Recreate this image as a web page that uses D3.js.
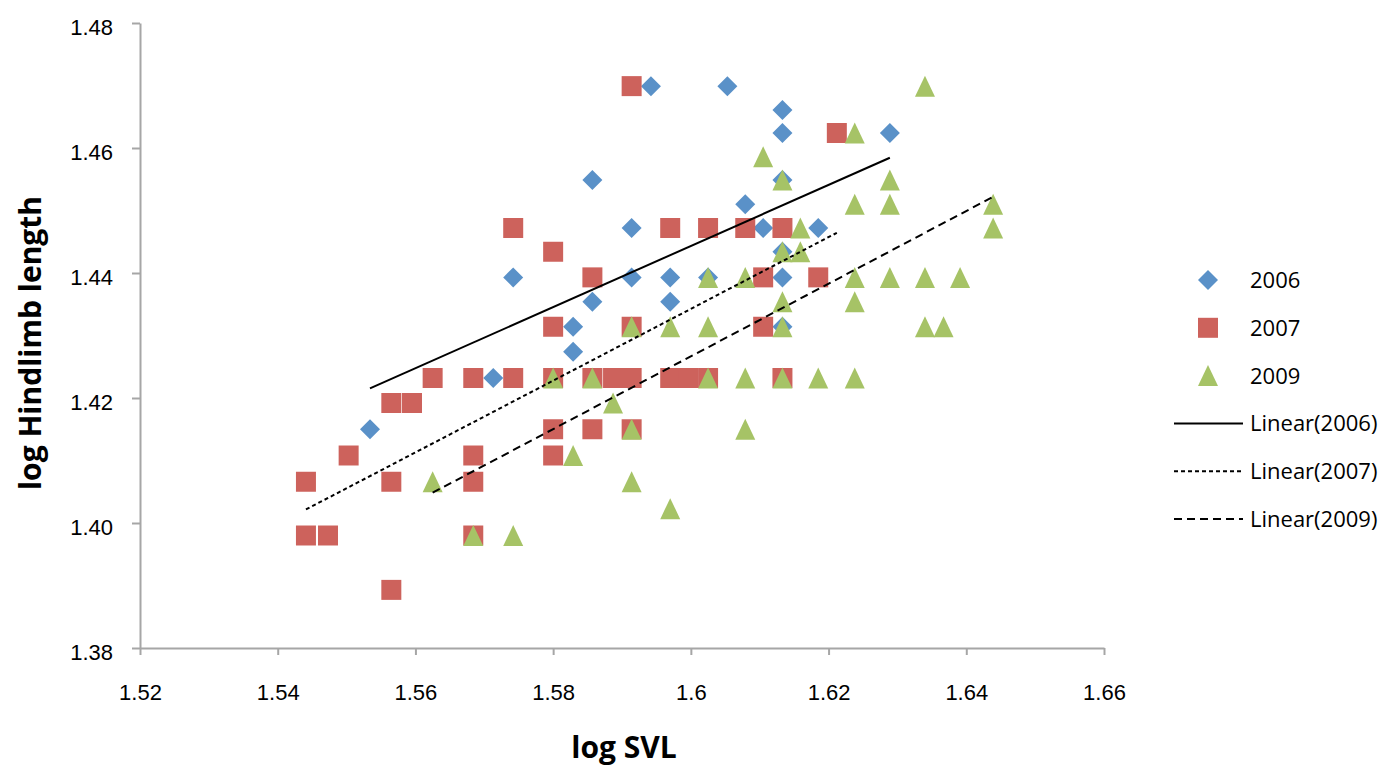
<!DOCTYPE html>
<html>
<head>
<meta charset="utf-8">
<script src="https://cdn.jsdelivr.net/npm/d3@7"></script>
<style>
  body { margin: 0; background: #fff; }
  svg { display: block; font-family: "Open Sans", sans-serif; }
  .axis path, .axis line { stroke: #a6a6a6; stroke-width: 2px; }
  .axis text { font-size: 22px; fill: #000; }
  .axis-title { font-size: 30px; font-weight: bold; }
  .legend text { font-size: 22px; }
</style>
</head>
<body>
<svg id="chart" width="1390" height="770"></svg>
<script>
// values (log SVL / log hindlimb length)
const x2006 = [1.5534, 1.5713, 1.5742, 1.5829, 1.5829, 1.5857, 1.5857, 1.5914, 1.5914, 1.5942, 1.5970, 1.5970,
  1.6053, 1.6133, 1.6133, 1.6133, 1.6079, 1.6105, 1.6185, 1.6289, 1.6025, 1.6133, 1.6133, 1.6133];
const y2006 = [1.4150, 1.4232, 1.4393, 1.4314, 1.4274, 1.4549, 1.4354, 1.4472, 1.4393, 1.4699, 1.4393, 1.4354,
  1.4699, 1.4661, 1.4624, 1.4549, 1.4510, 1.4472, 1.4472, 1.4624, 1.4393, 1.4434, 1.4393, 1.4314];

const x2007 = [1.5441, 1.5441, 1.5473, 1.5503, 1.5565, 1.5595, 1.5565, 1.5565, 1.5625, 1.5684, 1.5684, 1.5684,
  1.5684, 1.5742, 1.5742, 1.5800, 1.5800, 1.5800, 1.5800, 1.5800, 1.5857, 1.5857, 1.5857, 1.5887, 1.5914,
  1.5914, 1.5914, 1.5914, 1.5970, 1.5970, 1.5996, 1.6025, 1.6025, 1.6079, 1.6105, 1.6105, 1.6133, 1.6133,
  1.6185, 1.6212];
const y2007 = [1.4066, 1.3980, 1.3980, 1.4108, 1.4192, 1.4192, 1.4066, 1.3893, 1.4232, 1.4232, 1.4108, 1.4066,
  1.3980, 1.4472, 1.4232, 1.4434, 1.4314, 1.4232, 1.4150, 1.4108, 1.4393, 1.4232, 1.4150, 1.4232, 1.4699,
  1.4314, 1.4232, 1.4150, 1.4472, 1.4232, 1.4232, 1.4472, 1.4232, 1.4472, 1.4393, 1.4314, 1.4472, 1.4232,
  1.4393, 1.4624];

const x2009 = [1.5625, 1.5684, 1.5742, 1.5800, 1.5829, 1.5857, 1.5887, 1.5914, 1.5914, 1.5914, 1.5970, 1.5970,
  1.6025, 1.6025, 1.6025, 1.6079, 1.6079, 1.6079, 1.6105, 1.6133, 1.6133, 1.6133, 1.6133, 1.6133, 1.6159,
  1.6159, 1.6185, 1.6238, 1.6238, 1.6238, 1.6238, 1.6238, 1.6289, 1.6289, 1.6289, 1.6340, 1.6340, 1.6340,
  1.6367, 1.6391, 1.6439, 1.6439];
const y2009 = [1.4066, 1.3980, 1.3980, 1.4232, 1.4108, 1.4232, 1.4192, 1.4314, 1.4150, 1.4066, 1.4314, 1.4023,
  1.4393, 1.4314, 1.4232, 1.4393, 1.4232, 1.4150, 1.4586, 1.4549, 1.4434, 1.4354, 1.4314, 1.4232, 1.4472,
  1.4434, 1.4232, 1.4624, 1.4510, 1.4393, 1.4354, 1.4232, 1.4549, 1.4510, 1.4393, 1.4699, 1.4393, 1.4314,
  1.4314, 1.4393, 1.4510, 1.4472];

const years = ['2006', '2007', '2009'];
// linear trend lines as drawn in the picture
const trendSlope = [0.4887, 0.5741, 0.5816];
const trendIntercept = [0.6624, 0.5157, 0.4961];

const xTicks = [1.52, 1.54, 1.56, 1.58, 1.6, 1.62, 1.64, 1.66];
const xTickLabels = ['1.52', '1.54', '1.56', '1.58', '1.6', '1.62', '1.64', '1.66'];
const yTicks = [1.38, 1.40, 1.42, 1.44, 1.46, 1.48];
const yTickLabels = ['1.38', '1.40', '1.42', '1.44', '1.46', '1.48'];

const colors = ['#5a91c8', '#cd625c', '#a6c366'];
const shapes = ['diamond', 'square', 'triangle'];
const dashes = [null, '4,3', '8,5'];

const svg = d3.select('#chart');

const x = d3.scaleLinear().domain([1.52, 1.66]).range([140, 1104]);
const y = d3.scaleLinear().domain([1.38, 1.48]).range([648, 23]);

const markerPath = (shape, cx, cy) => {
  const r = 10;
  if (shape === 'diamond') {
    return `M${cx},${cy - r}L${cx + r},${cy}L${cx},${cy + r}L${cx - r},${cy}Z`;
  }
  if (shape === 'square') {
    return `M${cx - r},${cy - r}h${2 * r}v${2 * r}h${-2 * r}Z`;
  }
  return `M${cx},${cy - 10.5}L${cx + 10},${cy + 10.5}L${cx - 10},${cy + 10.5}Z`;
};

// axes
svg.append('g')
  .attr('class', 'axis')
  .attr('transform', 'translate(0,648)')
  .call(d3.axisBottom(x)
    .tickValues(xTicks)
    .tickFormat((d, i) => xTickLabels[i])
    .tickSize(7)
    .tickSizeOuter(0)
    .tickPadding(29));

svg.append('g')
  .attr('class', 'axis')
  .attr('transform', 'translate(140,0)')
  .call(d3.axisLeft(y)
    .tickValues(yTicks)
    .tickFormat((d, i) => yTickLabels[i])
    .tickSize(8)
    .tickSizeOuter(0)
    .tickPadding(19))
  .selectAll('text')
  .attr('dy', '0.5em');

svg.selectAll('.axis .domain').attr('fill', 'none');

// axis titles
svg.append('text')
  .attr('class', 'axis-title')
  .attr('x', 624)
  .attr('y', 758)
  .attr('text-anchor', 'middle')
  .text('log SVL');

svg.append('text')
  .attr('class', 'axis-title')
  .attr('transform', 'translate(41,343) rotate(-90)')
  .attr('text-anchor', 'middle')
  .text('log Hindlimb length');

// markers
const series = [
  { xs: x2006, ys: y2006 },
  { xs: x2007, ys: y2007 },
  { xs: x2009, ys: y2009 },
];

series.forEach((s, k) => {
  svg.append('g')
    .selectAll('path')
    .data(s.xs.map((v, i) => [v, s.ys[i]]))
    .enter()
    .append('path')
    .attr('d', d => markerPath(shapes[k], x(d[0]), y(d[1])))
    .attr('fill', colors[k]);
});

// trend lines, over the markers
series.forEach((s, k) => {
  const ext = d3.extent(s.xs);
  svg.append('line')
    .attr('x1', x(ext[0]))
    .attr('y1', y(trendSlope[k] * ext[0] + trendIntercept[k]))
    .attr('x2', x(ext[1]))
    .attr('y2', y(trendSlope[k] * ext[1] + trendIntercept[k]))
    .attr('stroke', '#000')
    .attr('stroke-width', 2)
    .attr('stroke-dasharray', dashes[k]);
});

// legend
const legend = svg.append('g').attr('class', 'legend');
const rowY = i => 280 + i * 47.8;

years.forEach((yr, k) => {
  legend.append('path')
    .attr('d', markerPath(shapes[k], 1208, rowY(k)))
    .attr('fill', colors[k]);
  legend.append('text')
    .attr('x', 1250)
    .attr('y', rowY(k) + 8)
    .text(yr);
});

years.forEach((yr, k) => {
  const cy = rowY(k + 3);
  legend.append('line')
    .attr('x1', 1174)
    .attr('x2', 1243)
    .attr('y1', cy)
    .attr('y2', cy)
    .attr('stroke', '#000')
    .attr('stroke-width', 2)
    .attr('stroke-dasharray', dashes[k]);
  legend.append('text')
    .attr('x', 1250)
    .attr('y', cy + 8)
    .text(`Linear(${yr})`);
});
</script>
</body>
</html>
